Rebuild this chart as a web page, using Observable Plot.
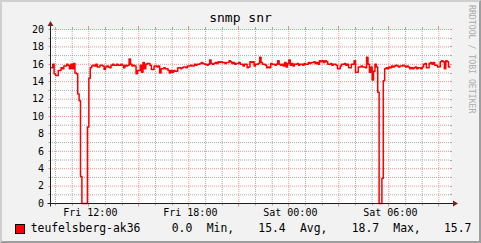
<!DOCTYPE html>
<html><head><meta charset="utf-8">
<script src="https://cdn.jsdelivr.net/npm/d3@7"></script>
<script src="https://cdn.jsdelivr.net/npm/@observablehq/plot@0.6"></script>
<style>
html,body{margin:0;padding:0;background:#f2f2f2;}
#wrap{position:relative;width:481px;height:243px;overflow:hidden;background:#f2f2f2;font-family:"DejaVu Sans Mono",monospace;}
#chart,#overlay{position:absolute;left:0;top:0;}
#frame{position:absolute;left:0;top:0;width:481px;height:243px;box-sizing:border-box;border-top:2px solid #cfcfcf;border-left:2px solid #cfcfcf;border-right:2px solid #9e9e9e;border-bottom:2px solid #9e9e9e;pointer-events:none;}
</style>
</head><body>
<div id="wrap"><div id="chart"></div><svg id="overlay" width="481" height="243"></svg><div id="frame"></div></div>
<script>
// ---- data ----
const title = "snmp snr";
const watermark = "RRDTOOL / TOBI OETIKER";
const seriesName = "teufelsberg-ak36";
const legendParts = ["0.0", "Min,", "15.4", "Avg,", "18.7", "Max,", "15.7"];
const startTime = "2024-01-05T09:42Z";
const endTime = "2024-01-06T09:42Z";
const firstSample = "2024-01-05T09:45Z";
const stepMinutes = 5;
const snr = [
15.6,16.0,14.9,14.7,14.7,15.3,15.3,15.6,15.5,15.8,
15.8,16.0,15.9,15.5,16.0,15.5,16.1,15.0,14.9,12.6,
11.8,3.1,0,0,0,0,8.8,14.4,15.6,15.8,
15.9,15.8,16.0,15.7,15.7,15.9,15.9,15.8,15.4,15.7,
15.8,15.7,15.6,15.9,16.0,15.9,15.9,16.0,15.9,15.9,
16.0,15.9,15.6,15.9,15.8,15.9,16.6,16.0,15.8,15.9,
15.8,14.9,15.3,15.3,15.9,15.1,16.2,15.5,16.0,16.1,
16.1,15.9,15.4,15.4,15.8,15.8,15.7,15.8,15.0,15.5,
15.5,15.6,15.5,15.5,15.3,15.0,15.3,15.1,15.3,15.2,
15.2,15.6,15.6,15.5,15.6,15.7,15.7,15.6,15.8,15.8,
15.9,15.8,15.8,16.0,15.9,16.0,16.0,16.1,16.2,16.1,
16.0,16.0,15.9,16.0,16.5,16.1,16.0,16.1,16.2,16.1,
16.3,16.2,16.3,16.2,16.2,16.1,16.2,16.2,16.4,16.3,
16.1,16.2,16.0,16.1,16.1,16.2,16.0,16.0,15.8,16.0,
16.0,15.6,15.7,16.3,16.2,16.3,15.8,16.0,16.0,16.1,
16.8,16.2,16.0,16.0,15.9,15.6,15.7,15.6,16.1,16.0,
16.0,15.9,16.0,16.4,16.0,15.9,16.0,15.8,16.2,15.7,
16.1,16.5,15.9,16.1,15.8,16.0,16.0,16.1,15.9,16.0,
16.0,15.9,16.1,16.0,16.0,16.2,16.1,16.2,16.2,16.3,
16.1,16.2,16.0,16.4,16.3,16.4,16.2,16.4,16.3,16.0,
16.0,16.1,15.9,16.0,16.0,15.9,15.5,15.5,15.8,16.0,
16.0,16.1,15.9,16.0,15.6,15.6,16.0,16.0,16.4,15.1,
15.1,15.7,15.7,15.8,15.7,15.7,15.6,16.8,16.0,15.1,
15.7,14.2,15.2,16.0,15.7,12.8,0,0,2.9,14.1,
15.5,15.6,15.5,15.7,15.6,15.8,15.7,15.8,15.9,15.8,
15.7,15.8,15.8,15.9,15.8,15.7,15.8,15.7,15.5,15.6,
15.5,15.6,15.7,15.5,15.6,15.6,15.5,15.7,16.0,16.1,
15.6,15.6,16.1,16.2,16.0,16.2,15.9,15.9,15.7,15.7,
16.3,16.4,16.3,15.5,16.4,16.3,15.7
];
const yMajor = [0,2,4,6,8,10,12,14,16,18,20];
const yMinor = [1,3,5,7,9,11,13,15,17,19];
const xLabelTimes = ["2024-01-05T12:00Z","2024-01-05T18:00Z","2024-01-06T00:00Z","2024-01-06T06:00Z"];
const xLabels = ["Fri 12:00","Fri 18:00","Sat 00:00","Sat 06:00"];
const xMajorTimes = ["2024-01-05T12:00Z","2024-01-05T15:00Z","2024-01-05T18:00Z","2024-01-05T21:00Z","2024-01-06T00:00Z","2024-01-06T03:00Z","2024-01-06T06:00Z","2024-01-06T09:00Z"];

// ---- build ----
const t0 = new Date(startTime), t1 = new Date(endTime), ts = new Date(firstSample);
const table = snr.map((v, i) => ({t: new Date(+ts + i * stepMinutes * 60000), v}));
table.push({t: new Date(+ts + snr.length * stepMinutes * 60000), v: snr[snr.length - 1]});
const majorSet = new Set(xMajorTimes.map(d => +new Date(d)));
const xMinorTimes = d3.utcHour.range(t0, t1).filter(d => !majorSet.has(+d));
const xMajor = xMajorTimes.map(d => new Date(d));

const MINOR = "rgba(143,143,143,0.75)";
const MAJOR = "rgba(222,79,79,0.6)";
const AXIS = "#1f1f1f";
const ARROW = "#801f1f";
const FONT = "DejaVu Sans Mono";

function axesMark(index, scales, values, dims) {
  const X = scales.x, Y = scales.y;
  const g = d3.create("svg:g");
  const xl = dims.marginLeft + 0.5, xr = dims.width - dims.marginRight;
  const yb = dims.height - dims.marginBottom + 0.5, yt = dims.marginTop;
  // tick marks outside plot area, in grid colours
  for (const v of yMinor) { const y = Math.round(Y(v)) + 0.5;
    g.append("line").attr("x1", xl - 2).attr("x2", xl).attr("y1", y).attr("y2", y).attr("stroke", MINOR);
    g.append("line").attr("x1", xr).attr("x2", xr + 2).attr("y1", y).attr("y2", y).attr("stroke", MINOR); }
  for (const v of yMajor) { const y = Math.round(Y(v)) + 0.5;
    g.append("line").attr("x1", xl - 2).attr("x2", xl).attr("y1", y).attr("y2", y).attr("stroke", MAJOR);
    g.append("line").attr("x1", xr).attr("x2", xr + 2).attr("y1", y).attr("y2", y).attr("stroke", MAJOR); }
  for (const d of xMinorTimes) { const x = Math.round(X(d)) + 0.5;
    g.append("line").attr("x1", x).attr("x2", x).attr("y1", yb).attr("y2", yb + 2).attr("stroke", MINOR);
    g.append("line").attr("x1", x).attr("x2", x).attr("y1", yt - 2).attr("y2", yt).attr("stroke", MINOR); }
  for (const d of xMajor) { const x = Math.round(X(d)) + 0.5;
    g.append("line").attr("x1", x).attr("x2", x).attr("y1", yb).attr("y2", yb + 3).attr("stroke", MAJOR);
    g.append("line").attr("x1", x).attr("x2", x).attr("y1", yt - 3).attr("y2", yt).attr("stroke", MAJOR); }
  // axis lines
  g.append("line").attr("x1", xl - 3).attr("x2", xr + 4).attr("y1", yb).attr("y2", yb).attr("stroke", AXIS);
  g.append("line").attr("x1", xl).attr("x2", xl).attr("y1", yb + 3).attr("y2", yt - 4).attr("stroke", AXIS);
  // arrows
  g.append("path").attr("d", `M${xr + 8},${yb} L${xr + 3},${yb - 3} L${xr + 3},${yb + 3} Z`).attr("fill", ARROW);
  g.append("path").attr("d", `M${xl},${yt - 8} L${xl - 3},${yt - 3} L${xl + 3},${yt - 3} Z`).attr("fill", ARROW);
  return g.node();
}

const chart = Plot.plot({
  width: 481, height: 243,
  marginLeft: 50, marginRight: 31, marginTop: 29, marginBottom: 40,
  style: {background: "transparent", overflow: "visible", fontFamily: FONT},
  x: {type: "utc", domain: [t0, t1], axis: null},
  y: {domain: [0, 20], axis: null},
  marks: [
    Plot.frame({fill: "#ffffff", stroke: "none"}),
    Plot.ruleY(yMinor, {stroke: MINOR, strokeDasharray: "1,1"}),
    Plot.ruleX(xMinorTimes, {stroke: MINOR, strokeDasharray: "1,1"}),
    Plot.ruleY(yMajor, {stroke: MAJOR, strokeDasharray: "1,1"}),
    Plot.ruleX(xMajor, {stroke: MAJOR, strokeDasharray: "1,1"}),
    Plot.line(table, {x: "t", y: "v", curve: "step-after", stroke: "#ff0000", strokeWidth: 1.5}),
    axesMark,
    Plot.text(yMajor, {y: d => d, text: d => String(d), frameAnchor: "left", textAnchor: "end", dx: -6.5, fontSize: 10, fill: "#000", fontFamily: FONT}),
    Plot.text(xLabelTimes, {x: d => new Date(d), text: (d, i) => xLabels[i], frameAnchor: "bottom", lineAnchor: "bottom", dy: 12.5, dx: 1.5, fontSize: 10, fill: "#000", fontFamily: FONT})
  ]
});
document.getElementById("chart").appendChild(chart);

// ---- title, legend, watermark ----
const ov = d3.select("#overlay").style("font-family", FONT);
ov.append("text").attr("x", 240.5).attr("y", 22).attr("text-anchor", "middle").attr("font-size", 13).attr("fill", "#000").text(title);
ov.append("text").attr("transform", "translate(469,5) rotate(90)").attr("font-size", 8.2).attr("fill", "#ababab").text(watermark);
ov.append("rect").attr("x", 15.5).attr("y", 224.5).attr("width", 9).attr("height", 9).attr("fill", "#ff0000").attr("stroke", "#000");
const legendX = [171.7, 206.7, 258.3, 300, 351.7, 393.3, 444];
ov.append("text").attr("x", 30.7).attr("y", 231.5).attr("font-size", 11.4).attr("fill", "#000").text(seriesName);
legendParts.forEach((s, i) => ov.append("text").attr("x", legendX[i]).attr("y", 231.5).attr("font-size", 11.4).attr("fill", "#000").text(s));
</script>
</body></html>
